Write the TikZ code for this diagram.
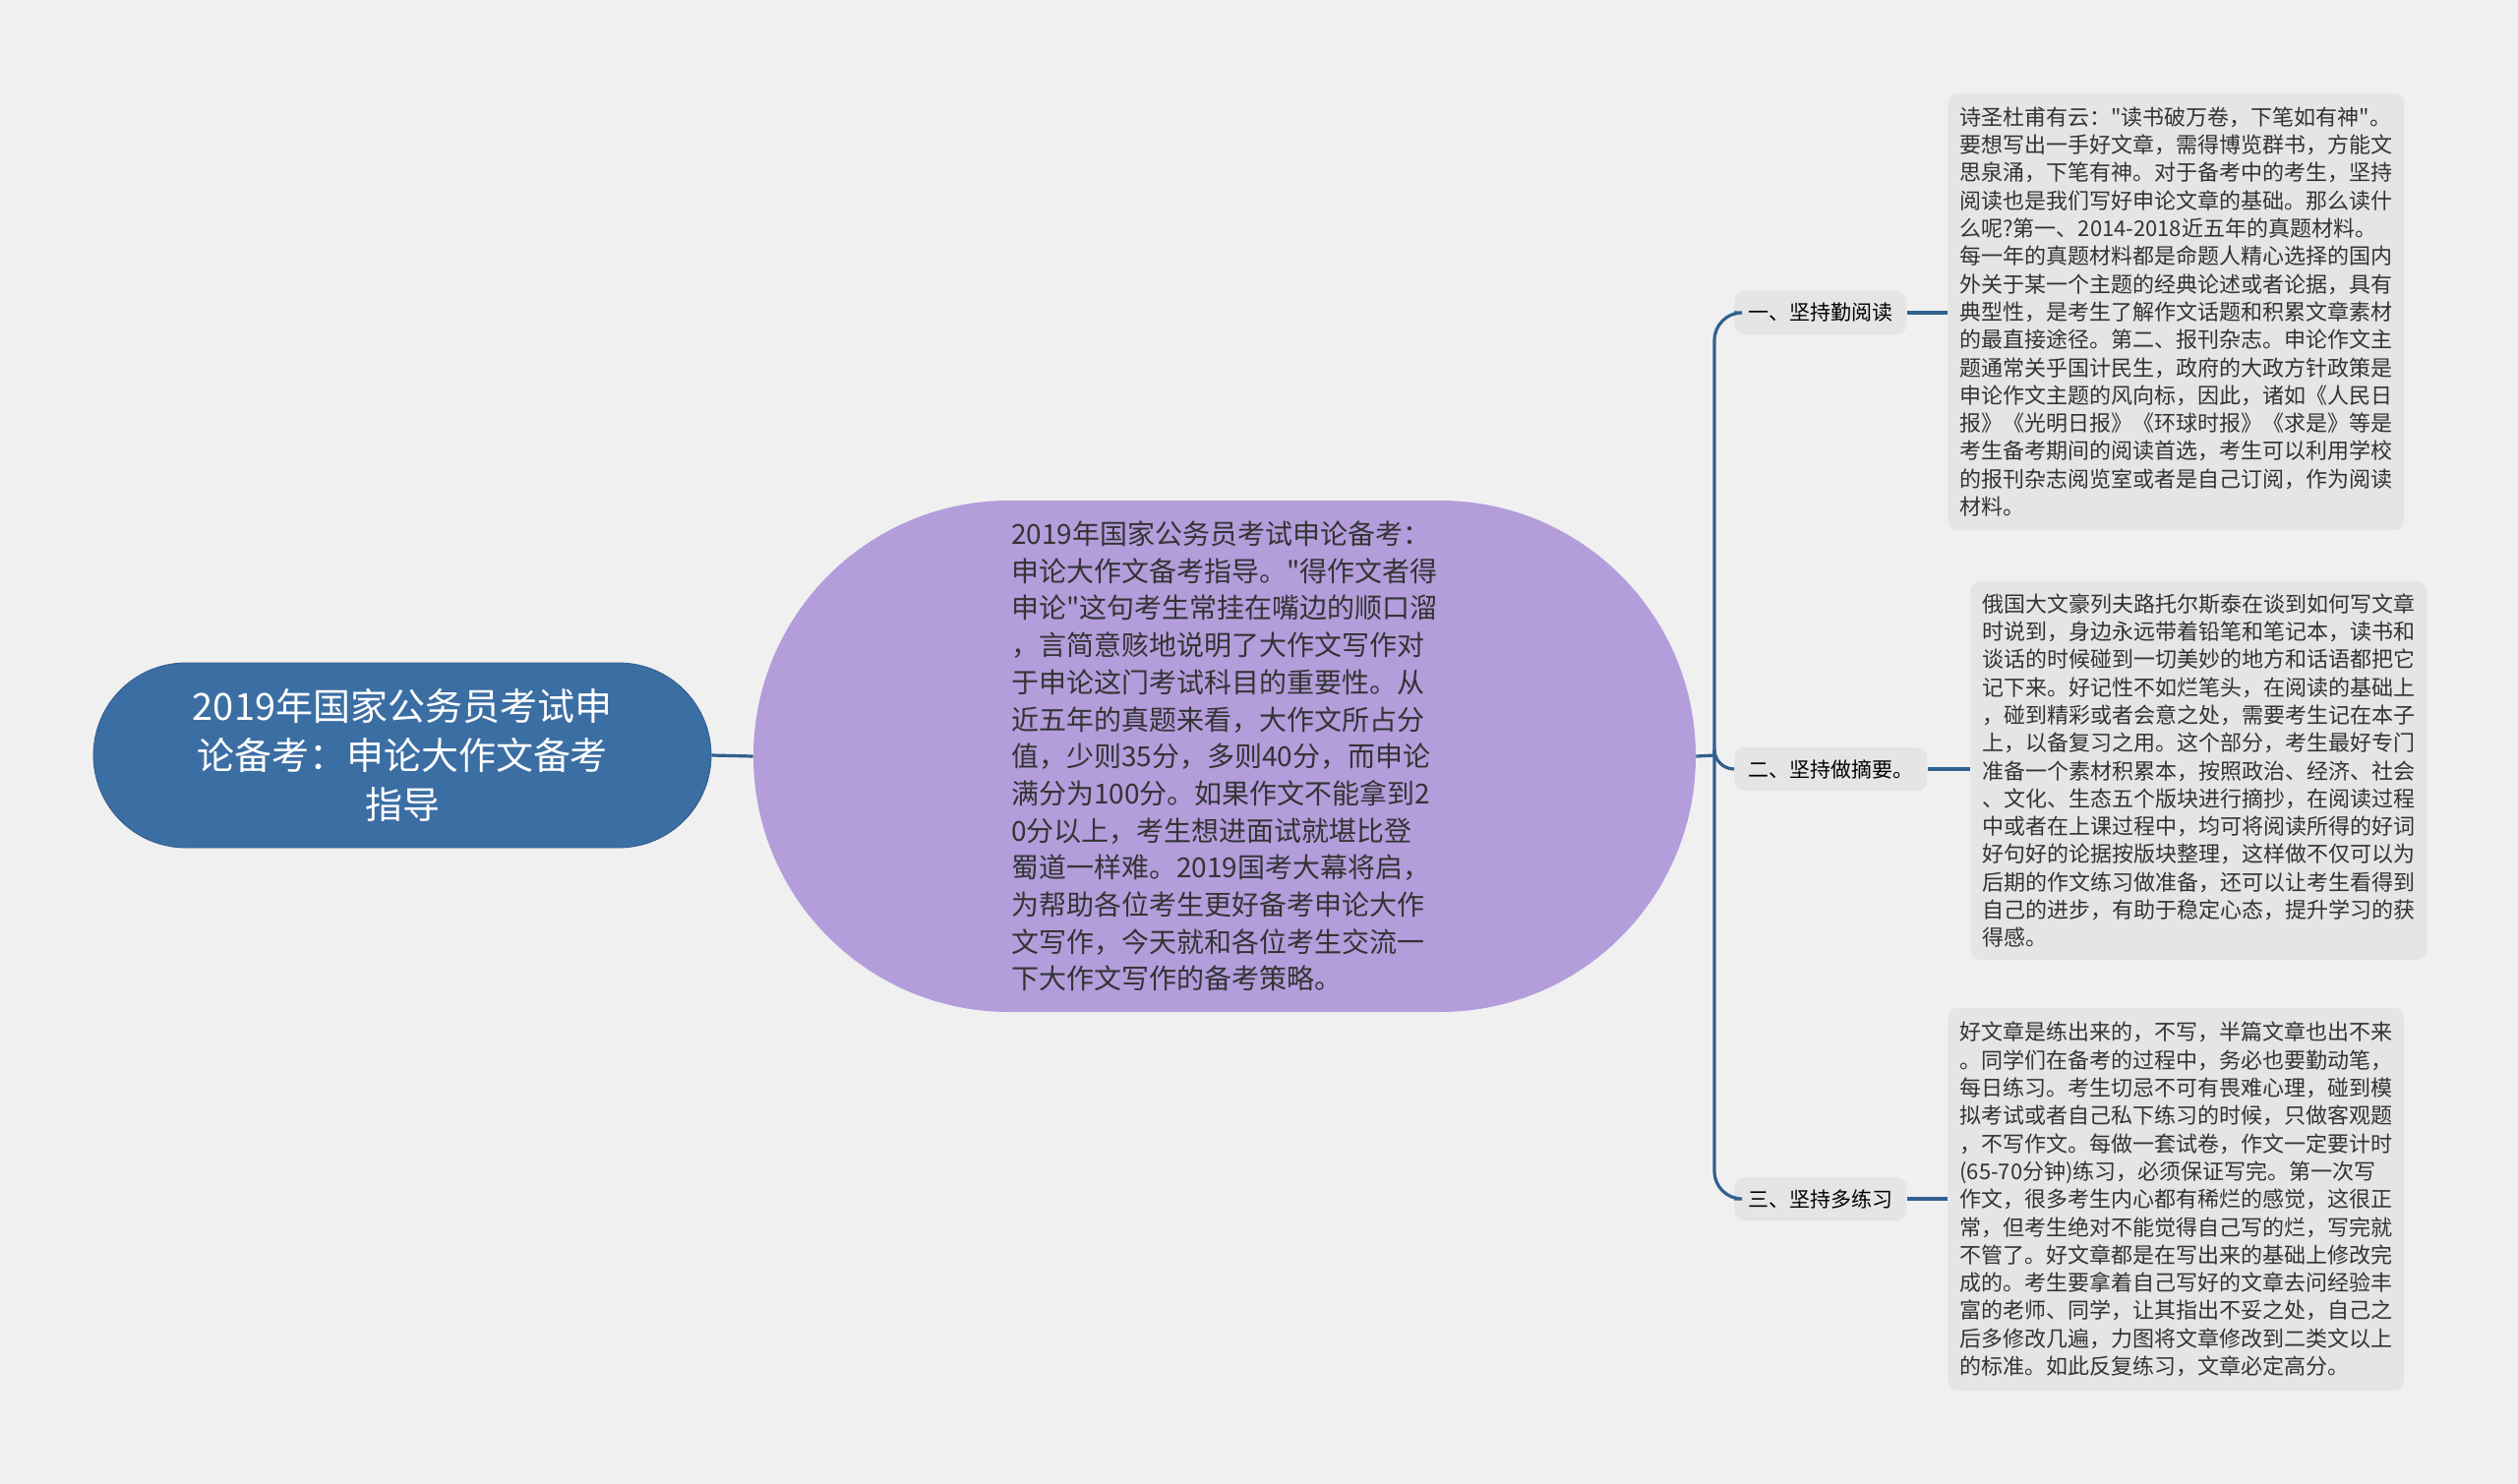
\documentclass[tikz,border=0pt]{standalone}
\usepackage{fontspec}
\setmainfont{Noto Sans CJK SC}
\newfontfamily\mapfont{Noto Sans CJK SC}
\definecolor{MapBg}{HTML}{F0F0F0}
\definecolor{RootBlue}{HTML}{3B6EA3}
\definecolor{TopicPurple}{HTML}{B39DDB}
\definecolor{LineBlue}{HTML}{30618F}
\definecolor{LeafGrey}{HTML}{E5E5E5}
\definecolor{TextDark}{HTML}{333333}
\usetikzlibrary{calc}
\tikzset{
    % main title on the left
    root node/.style={
        rectangle,
        rounded corners=47pt,
        fill=RootBlue,
        draw=RootBlue!85!black,
        minimum width=314pt,
        minimum height=94pt,
        align=center,
        text=white,
        font=\mapfont\fontsize{19pt}{25pt}\selectfont
    },
    % purple summary in the middle
    topic node/.style={
        rectangle,
        rounded corners=130pt,
        fill=TopicPurple,
        minimum width=479pt,
        minimum height=260pt,
        align=left,
        text=TextDark,
        font=\mapfont\fontsize{14pt}{18.85pt}\selectfont
    },
    branch label/.style={
        rectangle,
        rounded corners=5pt,
        fill=LeafGrey,
        anchor=west,
        inner xsep=7pt,
        minimum height=22pt,
        text=black,
        font=\mapfont\fontsize{10.5pt}{12pt}\selectfont
    },
    leaf text/.style={
        rectangle,
        rounded corners=5pt,
        fill=LeafGrey,
        anchor=west,
        inner xsep=6pt,
        minimum width=232pt,
        align=left,
        text=TextDark,
        font=\mapfont\fontsize{11pt}{14.15pt}\selectfont
    },
    branch line/.style={
        draw=LineBlue,
        line width=1.6pt
    }
}

\begin{document}
\begin{tikzpicture}[x=0.5pt, y=-0.5pt]
        \fill[MapBg] (0,0) rectangle (2560,1509);
        \useasboundingbox (0,0) rectangle (2560,1509);

        % title and summary
        \node[root node] (title) at (409, 768) {2019年国家公务员考试申\\论备考：申论大作文备考\\指导};
        \node[topic node] (summary) at (1245, 769) {2019年国家公务员考试申论备考：\\申论大作文备考指导。"得作文者得\\申论"这句考生常挂在嘴边的顺口溜\\，言简意赅地说明了大作文写作对\\于申论这门考试科目的重要性。从\\近五年的真题来看，大作文所占分\\值，少则35分，多则40分，而申论\\满分为100分。如果作文不能拿到2\\0分以上，考生想进面试就堪比登\\蜀道一样难。2019国考大幕将启，\\为帮助各位考生更好备考申论大作\\文写作，今天就和各位考生交流一\\下大作文写作的备考策略。};

        \draw[branch line] (title.east) -- (summary.west);

        % three branches
        \node[branch label] (reading) at (1763, 318) {一、坚持勤阅读};
        \node[branch label] (excerpt) at (1763, 782) {二、坚持做摘要。};
        \node[branch label] (practice) at (1763, 1219) {三、坚持多练习};

        \coordinate (fork) at (1743, 768);
        \draw[branch line] (summary.east) -- (fork);
        \draw[branch line, rounded corners=14pt] (fork) |- (reading.west);
        \draw[branch line, rounded corners=10pt] (fork) |- (excerpt.west);
        \draw[branch line, rounded corners=14pt] (fork) |- (practice.west);

        % detail texts
        \node[leaf text, minimum height=222pt] (reading-text) at (1980, 317) {诗圣杜甫有云："读书破万卷，下笔如有神"。\\要想写出一手好文章，需得博览群书，方能文\\思泉涌，下笔有神。对于备考中的考生，坚持\\阅读也是我们写好申论文章的基础。那么读什\\么呢?第一、2014-2018近五年的真题材料。\\每一年的真题材料都是命题人精心选择的国内\\外关于某一个主题的经典论述或者论据，具有\\典型性，是考生了解作文话题和积累文章素材\\的最直接途径。第二、报刊杂志。申论作文主\\题通常关乎国计民生，政府的大政方针政策是\\申论作文主题的风向标，因此，诸如《人民日\\报》《光明日报》《环球时报》《求是》等是\\考生备考期间的阅读首选，考生可以利用学校\\的报刊杂志阅览室或者是自己订阅，作为阅读\\材料。};
        \node[leaf text, minimum height=192.5pt] (excerpt-text) at (2003, 783.5) {俄国大文豪列夫路托尔斯泰在谈到如何写文章\\时说到，身边永远带着铅笔和笔记本，读书和\\谈话的时候碰到一切美妙的地方和话语都把它\\记下来。好记性不如烂笔头，在阅读的基础上\\，碰到精彩或者会意之处，需要考生记在本子\\上，以备复习之用。这个部分，考生最好专门\\准备一个素材积累本，按照政治、经济、社会\\、文化、生态五个版块进行摘抄，在阅读过程\\中或者在上课过程中，均可将阅读所得的好词\\好句好的论据按版块整理，这样做不仅可以为\\后期的作文练习做准备，还可以让考生看得到\\自己的进步，有助于稳定心态，提升学习的获\\得感。};
        \node[leaf text, minimum height=194.5pt] (practice-text) at (1980, 1219.5) {好文章是练出来的，不写，半篇文章也出不来\\。同学们在备考的过程中，务必也要勤动笔，\\每日练习。考生切忌不可有畏难心理，碰到模\\拟考试或者自己私下练习的时候，只做客观题\\，不写作文。每做一套试卷，作文一定要计时\\(65-70分钟)练习，必须保证写完。第一次写\\作文，很多考生内心都有稀烂的感觉，这很正\\常，但考生绝对不能觉得自己写的烂，写完就\\不管了。好文章都是在写出来的基础上修改完\\成的。考生要拿着自己写好的文章去问经验丰\\富的老师、同学，让其指出不妥之处，自己之\\后多修改几遍，力图将文章修改到二类文以上\\的标准。如此反复练习，文章必定高分。};

        \draw[branch line] (reading.east) -- (reading.east -| reading-text.west);
        \draw[branch line] (excerpt.east) -- (excerpt.east -| excerpt-text.west);
        \draw[branch line] (practice.east) -- (practice.east -| practice-text.west);
    \end{tikzpicture}
\end{document}
